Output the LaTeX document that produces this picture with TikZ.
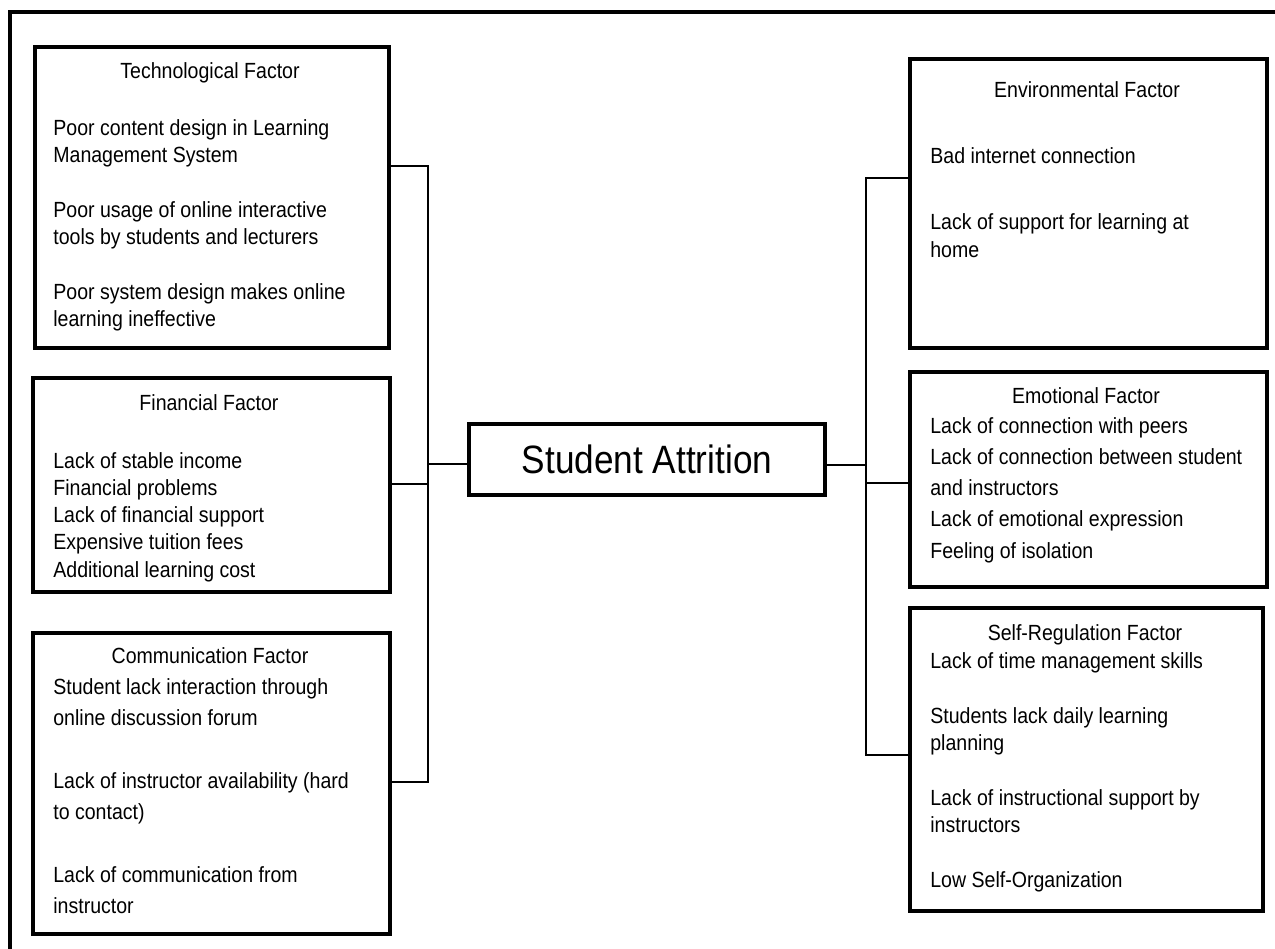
\documentclass[tikz,border=0pt]{standalone}
\usepackage{fontspec}
\setmainfont{Liberation Sans}[FakeStretch=0.89]

\tikzset{
  factorbox/.style={draw, line width=2.3pt, anchor=north west, inner sep=0pt},
  boxtitle/.style={anchor=base, inner sep=0pt, font=\fontsize{12.5}{15}\selectfont},
  boxitems/.style={anchor=base west, inner sep=0pt, align=left, font=\fontsize{12.5}{#1}\selectfont},
  link/.style={line width=0.8pt},
}

\begin{document}
\begin{tikzpicture}[x=0.02cm, y=-0.02cm]
    \useasboundingbox (0,0) rectangle (1275,948);
    \draw[line width=2.6pt] (1280,12) -- (10,12) -- (10,953);

    \node[factorbox, minimum width=7.08cm, minimum height=6.02cm] (tech) at (33,45) {};
    \node[boxtitle] (techtitle) at (210,78) {Technological Factor};
    \node[boxitems=15.3pt] (techitems) at (53,326) {Poor content design in Learning\\Management System\\[15.9pt]Poor usage of online interactive\\tools by students and lecturers\\[15.9pt]Poor system design makes online\\learning ineffective};

    \node[factorbox, minimum width=7.14cm, minimum height=4.28cm] (fin) at (31,376) {};
    \node[boxtitle] (fintitle) at (209,410) {Financial Factor};
    \node[boxitems=15.5pt] (finitems) at (53,577) {Lack of stable income\\Financial problems\\Lack of financial support\\Expensive tuition fees\\Additional learning cost};

    \node[factorbox, minimum width=7.14cm, minimum height=6.02cm] (comm) at (31,631) {};
    \node[boxtitle] (commtitle) at (210,663) {Communication Factor};
    \node[boxitems=17.6pt] (commitems) at (53,913) {Student lack interaction through\\online discussion forum\\[18.1pt]Lack of instructor availability (hard\\to contact)\\[18.1pt]Lack of communication from\\instructor};

    \node[draw, line width=2.3pt, minimum width=7.12cm, minimum height=1.42cm, inner sep=0pt, font=\fontsize{22.5}{27}\selectfont] (sa) at (647,459.5) {Student Attrition};

    \node[factorbox, minimum width=7.14cm, minimum height=5.78cm] (env) at (908,57) {};
    \node[boxtitle] (envtitle) at (1087,97) {Environmental Factor};
    \node[boxitems=15.9pt] (envitems) at (930,257) {Bad internet connection\\[21.5pt]Lack of support for learning at\\home};

    \node[factorbox, minimum width=7.14cm, minimum height=4.30cm] (emo) at (908,370) {};
    \node[boxtitle] (emotitle) at (1086,403) {Emotional Factor};
    \node[boxitems=17.7pt] (emoitems) at (930,558) {Lack of connection with peers\\Lack of connection between student\\and instructors\\Lack of emotional expression\\Feeling of isolation};

    \node[factorbox, minimum width=7.06cm, minimum height=6.06cm] (sr) at (908,606) {};
    \node[boxtitle] (srtitle) at (1085,640) {Self-Regulation Factor};
    \node[boxitems=15.3pt] (sritems) at (930,887) {Lack of time management skills\\[15.9pt]Students lack daily learning\\planning\\[15.9pt]Lack of instructional support by\\instructors\\[15.9pt]Low Self-Organization};

    \coordinate (ltop) at (428,166);
    \coordinate (lmid) at (428,484);
    \coordinate (lbot) at (428,782);
    \coordinate (lsa) at (428,464);
    \draw[link] (tech.east |- ltop) -- (ltop) -- (lbot) -- (comm.east |- lbot);
    \draw[link] (fin.east |- lmid) -- (lmid);
    \draw[link] (lsa) -- (sa.west |- lsa);

    \coordinate (rtop) at (866,178);
    \coordinate (rmid) at (866,483);
    \coordinate (rbot) at (866,755);
    \coordinate (rsa) at (866,465);
    \draw[link] (env.west |- rtop) -- (rtop) -- (rbot) -- (sr.west |- rbot);
    \draw[link] (emo.west |- rmid) -- (rmid);
    \draw[link] (sa.east |- rsa) -- (rsa);
\end{tikzpicture}
\end{document}
